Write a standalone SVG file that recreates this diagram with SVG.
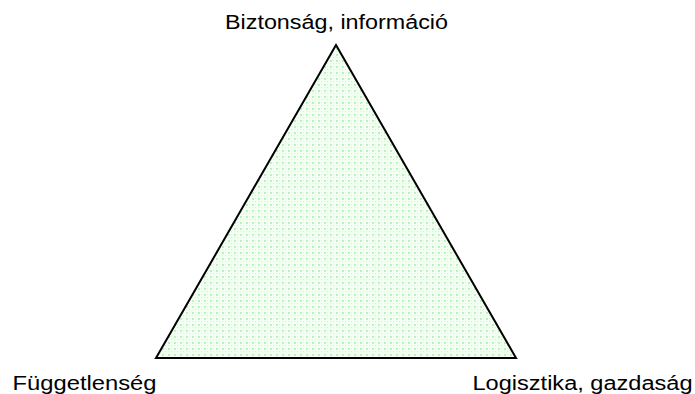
<svg xmlns="http://www.w3.org/2000/svg" width="695" height="394" viewBox="0 0 695 394">
<style>
text{font-family:"Liberation Sans",Arial,sans-serif;font-size:19.5px;fill:#000}
.tri{fill:url(#dots);stroke:#000;stroke-width:2;stroke-linejoin:miter}
</style>
<defs>
<pattern id="dots" width="6" height="6" patternUnits="userSpaceOnUse">
<rect width="6" height="6" fill="#f4fff4"/>
<rect x="0" y="0" width="2" height="2" fill="#b8f5b8"/>
<rect x="3" y="3" width="1" height="1" fill="#c8f8c8"/>
<rect x="3" y="0" width="1" height="1" fill="#d4f9d4"/>
<rect x="0" y="3" width="1" height="1" fill="#d4f9d4"/>
</pattern>
</defs>
<rect width="695" height="394" fill="#fff"/>
<g id="triangle">
<polygon class="tri" points="336,45 516,358 156,358"/>
</g>
<g id="connectors"></g>
<g id="top"><text x="225" y="28.5" textLength="223" lengthAdjust="spacingAndGlyphs">Biztonság, információ</text></g>
<g id="left"><text x="12.5" y="390" textLength="144" lengthAdjust="spacingAndGlyphs">Függetlenség</text></g>
<g id="right"><text x="472.5" y="390" textLength="220" lengthAdjust="spacingAndGlyphs">Logisztika, gazdaság</text></g>
</svg>
